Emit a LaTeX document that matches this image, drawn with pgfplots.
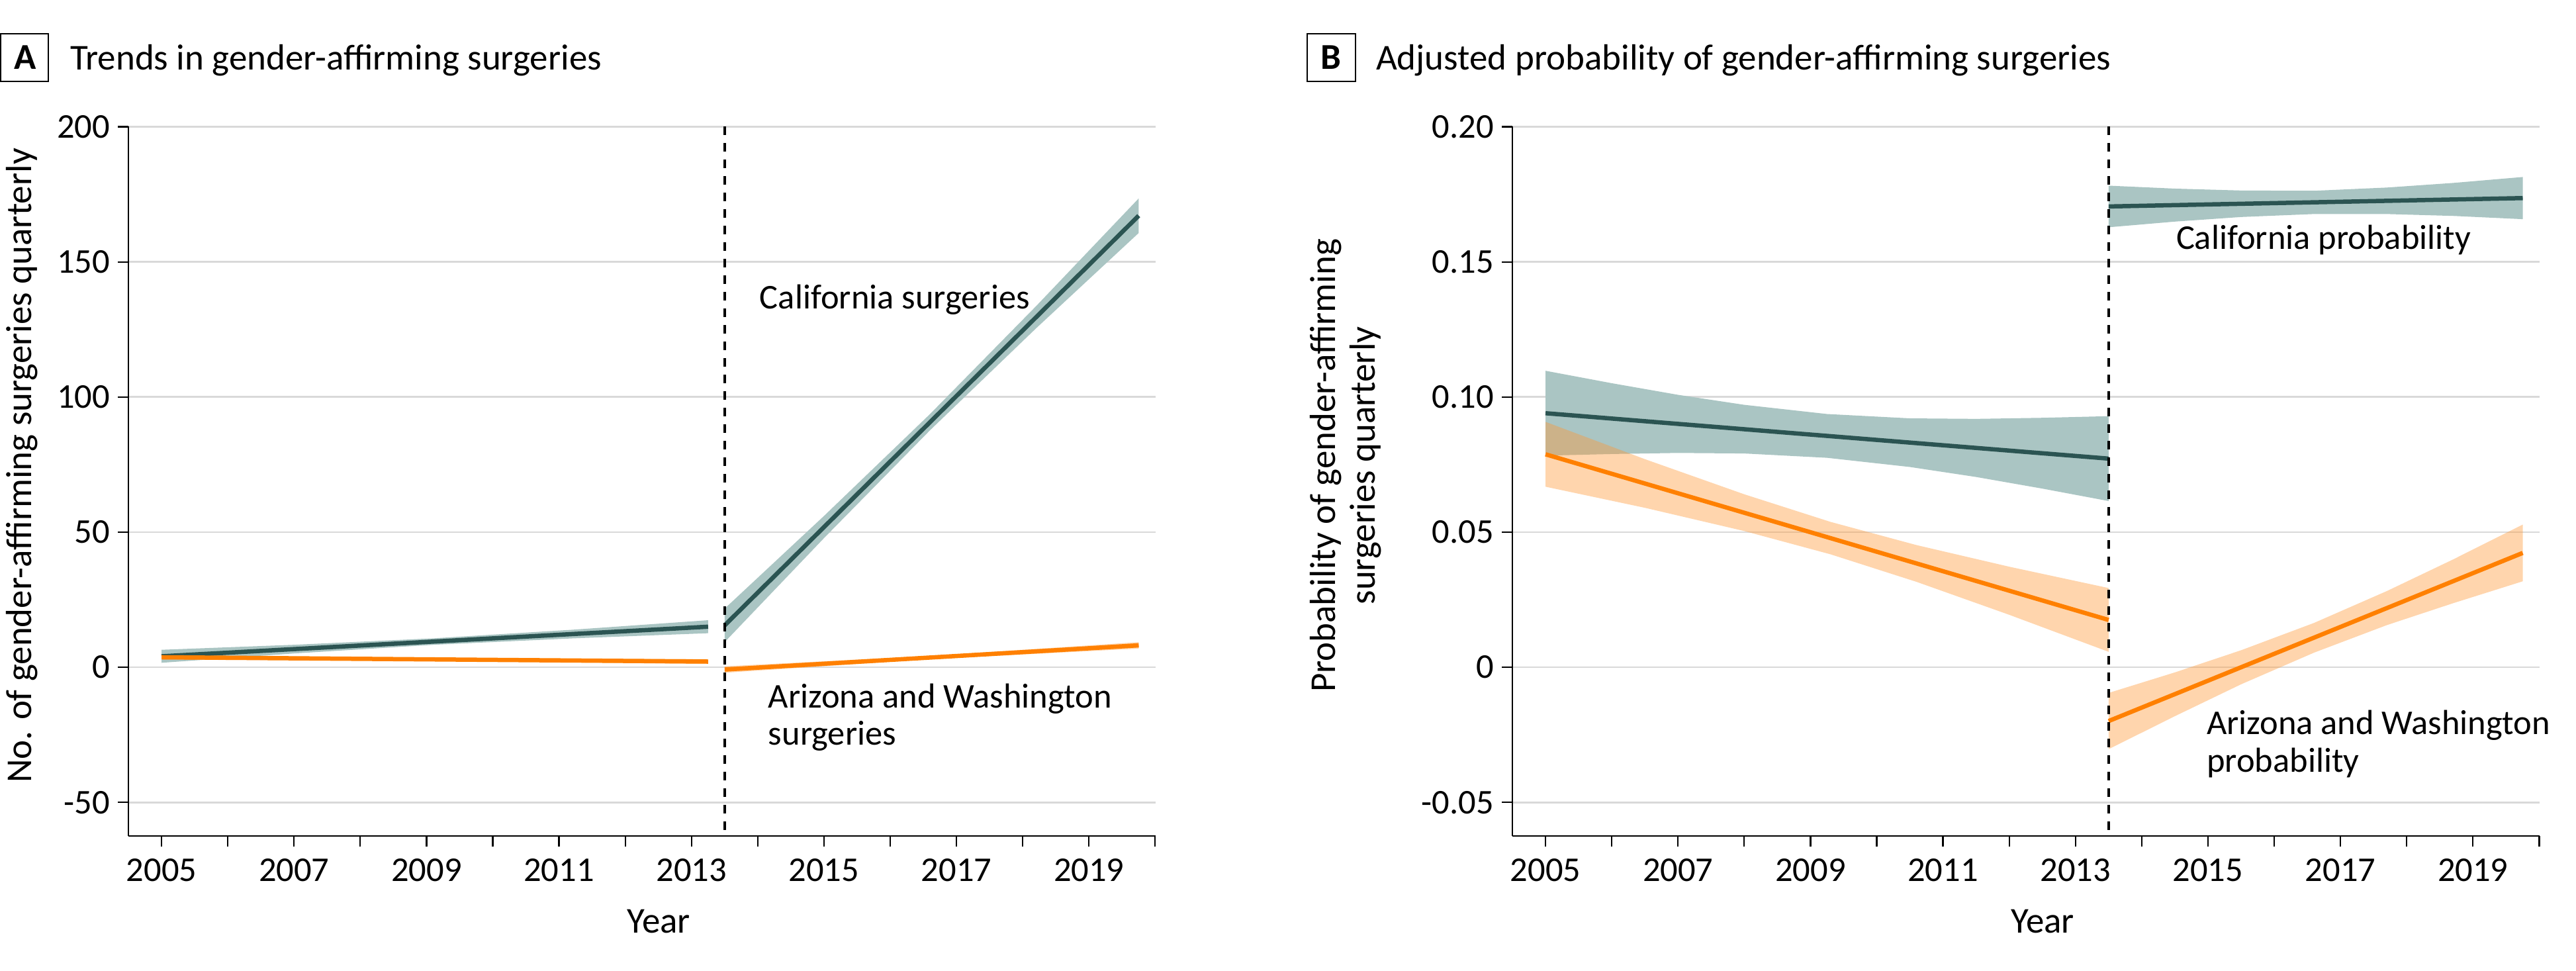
\documentclass[border=0pt]{standalone}
\usepackage{fontspec}
\setmainfont{Carlito}
\usepackage{pgfplots}
\pgfplotsset{compat=1.18}

\definecolor{tealline}{RGB}{43,84,82}
\definecolor{tealband}{RGB}{170,197,195}
\definecolor{orangeline}{RGB}{255,128,0}
\definecolor{orangeband}{RGB}{255,150,50}
\definecolor{gridgray}{RGB}{217,217,217}

\newcommand{\tickfont}{\fontsize{10.5}{12}\selectfont}
\newcommand{\labfont}{\fontsize{11}{13}\selectfont}

\pgfplotsset{
  panel/.style={
    scale only axis, width=310.3pt, height=214.36pt,
    xmin=2004.5, xmax=2020,
    axis x line*=bottom, axis y line*=left,
    axis line style={line width=0.45pt, black},
    tick align=outside, major tick length=3.2pt,
    tick style={line width=0.45pt, black},
    xtick={2005,...,2020},
    xticklabels={2005,,2007,,2009,,2011,,2013,,2015,,2017,,2019,},
    ymajorgrids, grid style={gridgray, line width=0.55pt},
    tick label style={font=\tickfont},
    yticklabel style={inner sep=2.2pt},
    clip=false,
  },
  band/.style={draw=none, fill=#1},
  cut/.style={black, line width=0.8pt, dash pattern=on 2.6pt off 2.4pt},
}

\begin{document}
\begin{tikzpicture}
\useasboundingbox (0,0) rectangle (778.4pt,293.4pt);

% ---------- panel A ----------
\begin{axis}[panel, at={(38.8pt,40.74pt)}, anchor=south west,
  ymin=-62.5, ymax=200,
  ytick={-50,0,50,100,150,200},
  yticklabels={-50,0,50,100,150,200}]
% confidence bands
\addplot[band=tealband] coordinates {
  (2005,6.46) (2007,8.31) (2009.1,10.7) (2011.2,13.88) (2013.25,17.4)
  (2013.25,12.6) (2011.2,10.68) (2009.1,8.3) (2007,5.11) (2005,1.66)} -- cycle;
\addplot[band=orangeband, fill opacity=0.4] coordinates {
  (2005,4.6) (2009.1,3.4) (2013.25,3.0)
  (2013.25,1.2) (2009.1,2.4) (2005,2.8)} -- cycle;
\addplot[band=tealband] coordinates {
  (2013.5,21.7) (2015,56.0) (2016.6,93.7) (2018.2,133.6) (2019.75,173.5)
  (2019.75,160.7) (2018.2,125.4) (2016.6,87.7) (2015,47.8) (2013.5,9.3)} -- cycle;
\addplot[band=orangeband, fill opacity=0.4] coordinates {
  (2013.5,0.35) (2016.6,4.19) (2019.75,9.3)
  (2019.75,6.9) (2016.6,2.99) (2013.5,-2.05)} -- cycle;
% fitted lines
\addplot[tealline, line width=1.3pt] coordinates {(2005,4.06) (2013.25,15.0)};
\addplot[orangeline, line width=1.3pt] coordinates {(2005,3.7) (2013.25,2.1)};
\addplot[tealline, line width=1.3pt] coordinates {(2013.5,15.5) (2019.75,167.1)};
\addplot[orangeline, line width=1.3pt] coordinates {(2013.5,-0.85) (2019.75,8.1)};
\addplot[cut] coordinates {(2013.5,200) (2013.5,-62.5)};
\node[anchor=base west, inner sep=0, font=\tickfont] at (axis cs:2014.02,132.6) {California surgeries};
\node[anchor=base west, inner sep=0, font=\tickfont] at (axis cs:2014.15,-15.0) {Arizona and Washington};
\node[anchor=base west, inner sep=0, font=\tickfont] at (axis cs:2014.15,-28.7) {surgeries};
\end{axis}

% ---------- panel B ----------
\begin{axis}[panel, at={(457pt,40.74pt)}, anchor=south west,
  ymin=-0.0625, ymax=0.20,
  ytick={-0.05,0,0.05,0.10,0.15,0.20},
  yticklabels={-0.05,0,0.05,0.10,0.15,0.20}]
\addplot[band=tealband] coordinates {
  (2005,0.1097) (2006,0.1051) (2007,0.1008) (2008,0.0971) (2009.25,0.0937)
  (2010.5,0.0921) (2011.5,0.0919) (2012.5,0.0923) (2013.5,0.0929)
  (2013.5,0.0615) (2012.5,0.0661) (2011.5,0.0704) (2010.5,0.0741)
  (2009.25,0.0775) (2008,0.0791) (2007,0.0793) (2006,0.0789) (2005,0.0783)} -- cycle;
\addplot[band=orangeband, fill opacity=0.4] coordinates {
  (2005,0.0908) (2006.5,0.0770) (2008,0.0640) (2009.3,0.0538) (2010.6,0.0452)
  (2012,0.0372) (2013.5,0.0293)
  (2013.5,0.0057) (2012,0.0194) (2010.6,0.0316) (2009.3,0.0418) (2008,0.0504)
  (2006.5,0.0590) (2005,0.0668)} -- cycle;
\addplot[band=tealband] coordinates {
  (2013.5,0.1782) (2014.5,0.1771) (2015.5,0.1764) (2016.6,0.1763) (2017.7,0.1775)
  (2018.7,0.1792) (2019.75,0.1814)
  (2019.75,0.1658) (2018.7,0.1670) (2017.7,0.1677) (2016.6,0.1677) (2015.5,0.1666)
  (2014.5,0.1649) (2013.5,0.1628)} -- cycle;
\addplot[band=orangeband, fill opacity=0.4] coordinates {
  (2013.5,-0.0095) (2014.5,-0.0019) (2015.5,0.0063) (2016.6,0.0164) (2017.7,0.0282)
  (2018.7,0.0399) (2019.75,0.0528)
  (2019.75,0.0318) (2018.7,0.0237) (2017.7,0.0156) (2016.6,0.0054) (2015.5,-0.0063)
  (2014.5,-0.0181) (2013.5,-0.0303)} -- cycle;
\addplot[tealline, line width=1.3pt] coordinates {(2005,0.0940) (2013.5,0.0772)};
\addplot[orangeline, line width=1.3pt] coordinates {(2005,0.0788) (2013.5,0.0175)};
\addplot[tealline, line width=1.3pt] coordinates {(2013.5,0.1705) (2019.75,0.1736)};
\addplot[orangeline, line width=1.3pt] coordinates {(2013.5,-0.0199) (2019.75,0.0423)};
\addplot[cut] coordinates {(2013.5,0.20) (2013.5,-0.0625)};
\node[anchor=base west, inner sep=0, font=\tickfont] at (axis cs:2014.51,0.1547) {California probability};
\node[anchor=base west, inner sep=0, font=\tickfont] at (axis cs:2014.97,-0.0248) {Arizona and Washington};
\node[anchor=base west, inner sep=0, font=\tickfont] at (axis cs:2014.97,-0.0388) {probability};
\end{axis}

% ---------- titles and axis labels ----------
\draw[line width=0.4pt] (0.2pt,268.8pt) rectangle (14.6pt,283.2pt);
\node[anchor=base, inner sep=0, font=\bfseries\labfont] at (7.6pt,272.4pt) {A};
\node[anchor=base west, inner sep=0, font=\labfont] at (21pt,272.2pt) {Trends in gender-affirming surgeries};
\draw[line width=0.4pt] (394.9pt,268.8pt) rectangle (409.5pt,283.2pt);
\node[anchor=base, inner sep=0, font=\bfseries\labfont] at (402.2pt,272.4pt) {B};
\node[anchor=base west, inner sep=0, font=\labfont] at (415.6pt,272.2pt) {Adjusted probability of gender-affirming surgeries};

\node[rotate=90, anchor=base, inner sep=0, font=\labfont] at (9.4pt,152.7pt) {No. of gender-affirming surgeries quarterly};
\node[rotate=90, anchor=base, inner sep=0, font=\labfont] at (403.4pt,152.7pt) {Probability of gender-affirming};
\node[rotate=90, anchor=base, inner sep=0, font=\labfont] at (415.4pt,152.7pt) {surgeries quarterly};

\node[anchor=base, inner sep=0, font=\labfont] at (199pt,11.4pt) {Year};
\node[anchor=base, inner sep=0, font=\labfont] at (617.2pt,11.4pt) {Year};
\end{tikzpicture}
\end{document}
